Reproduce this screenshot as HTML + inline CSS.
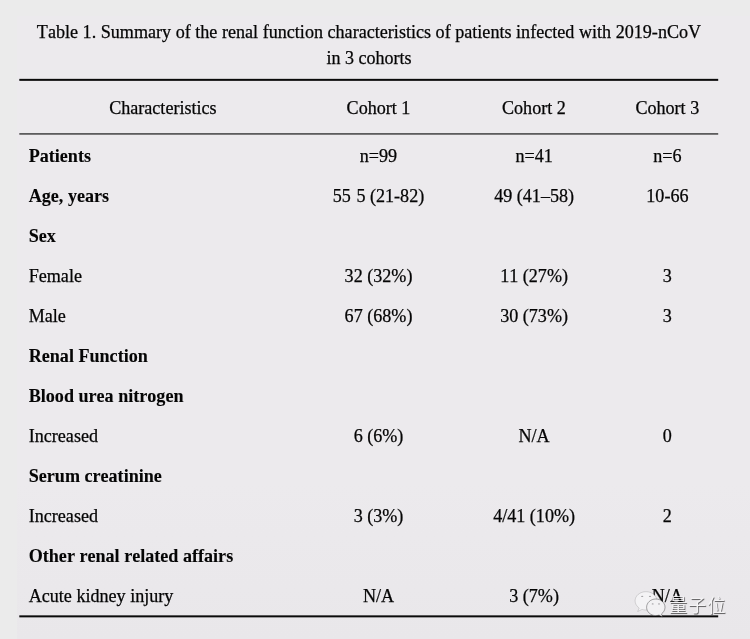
<!DOCTYPE html><html><head><meta charset="utf-8"><title>Table 1</title><style>
html,body{margin:0;padding:0}
body{width:750px;height:639px;background:#ebebeb;position:relative;overflow:hidden;
font-family:"Liberation Serif","Noto Serif CJK SC",serif;font-size:18.1px;font-kerning:none;color:#050505;line-height:20px;-webkit-text-stroke:0.25px #050505}
.t{position:absolute;white-space:nowrap;height:20px}
.c{transform:translateX(-50%);text-align:center}
.b{font-weight:bold;-webkit-text-stroke:0.1px #050505}
</style></head><body>
<div style="position:absolute;left:17px;top:16px;right:0;bottom:0;background:linear-gradient(180deg,#eceaed 0%,#eceaed 75%,#e9e7ea 100%)"></div>
<div class="t c" style="left:369.0px;top:22px;font-size:18.12px">Table 1. Summary of the renal function characteristics of patients infected with 2019-nCoV</div>
<div class="t c" style="left:369.1px;top:48px;font-size:18px">in 3 cohorts</div>
<svg style="position:absolute;left:0;top:0" width="750" height="639" viewBox="0 0 750 639"><rect x="19.300" y="78.850" width="698.900" height="2" fill="#0a0a0a"/><rect x="19.300" y="133.050" width="698.900" height="1.700" fill="#555"/><rect x="19.300" y="615.350" width="698.900" height="2" fill="#0a0a0a"/></svg>
<div class="t c" style="left:162.9px;top:98px">Characteristics</div>
<div class="t c" style="left:378.5px;top:98px">Cohort 1</div>
<div class="t c" style="left:533.9px;top:98px">Cohort 2</div>
<div class="t c" style="left:667.3px;top:98px">Cohort 3</div>
<div class="t b" style="left:28.7px;top:146px">Patients</div>
<div class="t c" style="left:378.5px;top:146px">n=99</div>
<div class="t c" style="left:534.1px;top:146px">n=41</div>
<div class="t c" style="left:667.4px;top:146px">n=6</div>
<div class="t b" style="left:28.7px;top:186px">Age, years</div>
<div class="t c" style="left:378.5px;top:186px">55<span style="margin-left:1px"> </span>5 (21-82)</div>
<div class="t c" style="left:534.1px;top:186px">49 (41–58)</div>
<div class="t c" style="left:667.4px;top:186px">10-66</div>
<div class="t b" style="left:28.7px;top:226px">Sex</div>
<div class="t" style="left:28.7px;top:266px">Female</div>
<div class="t c" style="left:378.5px;top:266px">32 (32%)</div>
<div class="t c" style="left:534.1px;top:266px">11 (27%)</div>
<div class="t c" style="left:667.4px;top:266px">3</div>
<div class="t" style="left:28.7px;top:306px">Male</div>
<div class="t c" style="left:378.5px;top:306px">67 (68%)</div>
<div class="t c" style="left:534.1px;top:306px">30 (73%)</div>
<div class="t c" style="left:667.4px;top:306px">3</div>
<div class="t b" style="left:28.7px;top:346px">Renal Function</div>
<div class="t b" style="left:28.7px;top:386px">Blood urea nitrogen</div>
<div class="t" style="left:28.7px;top:426px">Increased</div>
<div class="t c" style="left:378.5px;top:426px">6 (6%)</div>
<div class="t c" style="left:534.1px;top:426px">N/A</div>
<div class="t c" style="left:667.4px;top:426px">0</div>
<div class="t b" style="left:28.7px;top:466px">Serum creatinine</div>
<div class="t" style="left:28.7px;top:506px">Increased</div>
<div class="t c" style="left:378.5px;top:506px">3 (3%)</div>
<div class="t c" style="left:534.1px;top:506px">4/41 (10%)</div>
<div class="t c" style="left:667.4px;top:506px">2</div>
<div class="t b" style="left:28.7px;top:546px">Other renal related affairs</div>
<div class="t" style="left:28.7px;top:586px">Acute kidney injury</div>
<div class="t c" style="left:378.5px;top:586px">N/A</div>
<div class="t c" style="left:534.1px;top:586px">3 (7%)</div>
<div class="t c" style="left:667.4px;top:586px">N/A</div>
<svg style="position:absolute;left:630px;top:585px;overflow:visible" width="40" height="40" viewBox="0 0 40 40">
<path d="M16 6.700c-6 0-10.900 4-10.900 9.100 0 2.900 1.600 5.500 4.100 7.200l-1.500 3.500 4.400-2.100c1.200.4 2.500.6 3.900.6 6 0 10.900-4.100 10.900-9.200s-4.900-9.100-10.900-9.100z" fill="#f4f3f5" stroke="#000" stroke-opacity="0.16" stroke-width="0.8"/>
<path d="M25.800 14c-5.100 0-9.200 3.700-9.200 8.300s4.100 8.300 9.200 8.300c1.100 0 2.200-.2 3.200-.5l3.400 1.700-.9-2.900c2.100-1.500 3.500-3.900 3.500-6.600 0-4.600-4.100-8.300-9.200-8.300z" fill="#f2f1f3" stroke="#000" stroke-opacity="0.42" stroke-width="0.8"/>
<g fill="#a5a4a7"><ellipse cx="12.200" cy="11.400" rx="1.100" ry="0.700"/><ellipse cx="20" cy="11.400" rx="1.100" ry="0.700"/><ellipse cx="22.700" cy="18.900" rx="1" ry="0.700"/><ellipse cx="29" cy="18.900" rx="1" ry="0.700"/></g>
</svg>
<div class="t" style="left:669.2px;top:595.1px;font-family:'Liberation Sans','Noto Sans CJK SC',sans-serif;font-size:18px;letter-spacing:1.1px;line-height:22px;height:22px;color:#f4f3f5;text-shadow:0.8px 0.8px 0.7px rgba(0,0,0,0.6);transform:none;-webkit-text-stroke:0">量子位</div>
</body></html>
